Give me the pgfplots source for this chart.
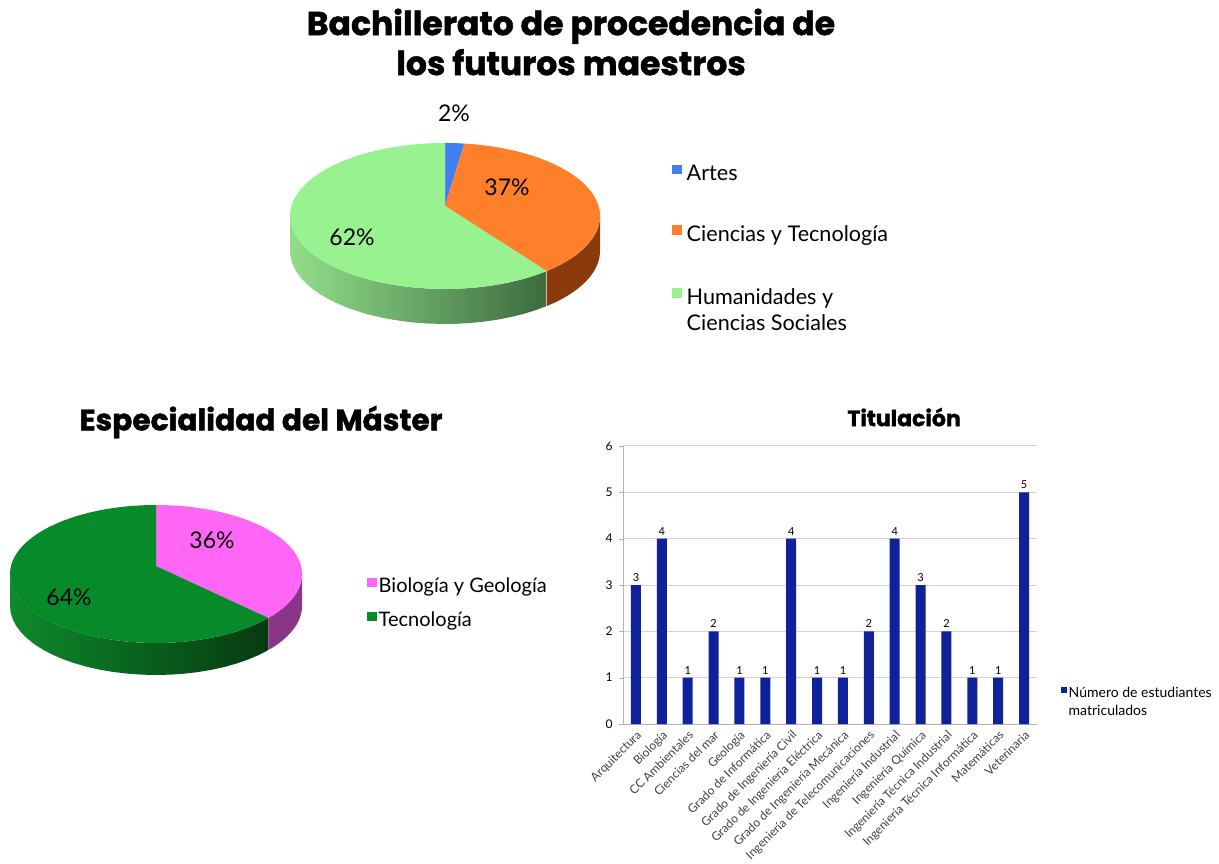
\documentclass[border=0pt]{standalone}
\usepackage{fontspec}
\setmainfont{Lato}
\newfontfamily\titlefont{Poppins}[BoldFeatures={FakeBold=1.5}]
\usepackage{pgfplots}
\pgfplotsset{compat=1.18}
\pgfplotsset{/pgf/number format/assume math mode=true}

\definecolor{artes}{HTML}{4080F0}
\definecolor{cyt}{HTML}{FF7F2A}
\definecolor{cytside}{HTML}{8A3A0A}
\definecolor{hum}{HTML}{98F28F}
\definecolor{humL}{HTML}{92DE8B}
\definecolor{humD}{HTML}{3D6B3F}
\definecolor{bio}{HTML}{FF66F5}
\definecolor{bioside}{HTML}{8A3585}
\definecolor{tec}{HTML}{078A2A}
\definecolor{tecL}{HTML}{0E8A2C}
\definecolor{tecD}{HTML}{063A10}
\definecolor{barblue}{HTML}{0F2299}

% side face of a 3D pie slice (front part only)
\newcommand{\sideplot}[8]{%
 \addplot[forget plot, draw=none, #1, domain=0:100,
   samples at={0,2,...,50,50.0001,52,54,...,100}]
 ({#4+#6*cos(((x<=50)?(#2+(#3-(#2))*x/50):(#2+(#3-(#2))*(100-x)/50)))},
  {#5+#7*sin(((x<=50)?(#2+(#3-(#2))*x/50):(#2+(#3-(#2))*(100-x)/50)))-((x<=50)?0:#8)});}
% top face of a 3D pie slice (#8 = height of the apex, slightly behind the centre)
\newcommand{\topslice}[8]{%
 \addplot[draw=none, #1, domain=#2:#3, samples=60]
 ({#4+#6*cos(x)},{#5+#7*sin(x)}) -- (axis cs:#4,#8) -- cycle;}

\begin{document}%
\begin{tikzpicture}
% data (percentages)
\def\vArtes{2}\def\vCyT{37}\def\vHum{62}
\def\vBio{36}\def\vTec{64}
\pgfmathsetmacro\aA{90-360*\vArtes/(\vArtes+\vCyT+\vHum)}
\pgfmathsetmacro\aB{\aA-360*\vCyT/(\vArtes+\vCyT+\vHum)}
\pgfmathsetmacro\aC{90-360*\vBio/(\vBio+\vTec)}

% ---------------- Pie 1 ----------------
\begin{axis}[at={(0pt,0pt)}, anchor=origin, x=1pt, y=1pt,
  xmin=0, xmax=1219, ymin=0, ymax=863, hide axis, clip=false,
  legend image code/.code={\fill[#1] (0pt,6.5pt) rectangle (9.5pt,16pt);},
  legend style={at={(0.5513,0.8108)}, anchor=north west, draw=none, fill=none,
    font=\fontsize{21.6}{26}\selectfont, row sep=39pt, column sep=3pt, inner sep=0pt,
    cells={anchor=base west}}]
\sideplot{left color=humL, right color=humD}{-180}{\aB}{445}{647}{155}{73}{35}
\sideplot{fill=cytside}{\aB}{0}{445}{647}{155}{73}{35}
\topslice{fill=artes}{\aA}{90}{445}{647}{155}{73}{657}
\addlegendentry{Artes}
\topslice{fill=cyt}{\aB}{\aA}{445}{647}{155}{73}{657}
\addlegendentry{Ciencias y Tecnología}
\topslice{fill=hum}{-270}{\aB}{445}{647}{155}{73}{657}
\addlegendentry{\begin{tabular}[t]{@{}l@{}}Humanidades y\\Ciencias Sociales\end{tabular}}
\node[font=\fontsize{23}{28}\selectfont] at (axis cs:454,750) {2\%};
\node[font=\fontsize{23}{28}\selectfont] at (axis cs:507,676) {37\%};
\node[font=\fontsize{23}{28}\selectfont] at (axis cs:352,626) {62\%};
\node[font=\titlefont\bfseries\fontsize{33}{40}\selectfont, align=center] at (axis cs:571,821)
  {Bachillerato de procedencia de\\los futuros maestros};
\end{axis}

% ---------------- Pie 2 ----------------
\begin{axis}[at={(0pt,0pt)}, anchor=origin, x=1pt, y=1pt,
  xmin=0, xmax=1219, ymin=0, ymax=863, hide axis, clip=false,
  legend image code/.code={\fill[#1] (0pt,5.5pt) rectangle (9.5pt,14.5pt);},
  legend style={at={(0.3011,0.3335)}, anchor=north west, draw=none, fill=none,
    font=\fontsize{20}{24}\selectfont, row sep=14pt, inner sep=0pt,
    cells={anchor=base west}}]
\sideplot{left color=tecL, right color=tecD}{-180}{\aC}{156}{289}{146}{69}{32}
\sideplot{fill=bioside}{\aC}{0}{156}{289}{146}{69}{32}
\topslice{fill=bio}{\aC}{90}{156}{289}{146}{69}{297}
\addlegendentry{Biología y Geología}
\topslice{fill=tec}{-270}{\aC}{156}{289}{146}{69}{297}
\addlegendentry{Tecnología}
\node[font=\fontsize{23}{28}\selectfont] at (axis cs:212,323) {36\%};
\node[font=\fontsize{23}{28}\selectfont] at (axis cs:69,266) {64\%};
\node[font=\titlefont\bfseries\fontsize{29.7}{36}\selectfont] at (axis cs:261,441)
  {Especialidad del Máster};
\end{axis}

% ---------------- Bar chart ----------------
\begin{axis}[at={(623pt,139pt)}, anchor=south west, width=414pt, height=278pt,
  scale only axis, ybar, bar width=10pt, clip=false,
  xmin=-0.5, xmax=15.5, ymin=0, ymax=6, ytick={0,...,6},
  xtick={0,...,15},
  xticklabels={Arquitectura, Biología, CC Ambientales, Ciencias del mar, Geología,
    Grado de Informática, Grado de Ingeniería Civil, Grado de Ingeniería Eléctrica,
    Grado de Ingeniería Mecánica, Ingeniería de Telecomunicaciones,
    Ingeniería Industrial, Ingeniería Química, Ingeniería Técnica Industrial,
    Ingeniería Técnica Informática, Matemáticas, Veterinaria},
  axis lines*=left, axis line style={gray!60, line width=0.8pt},
  ymajorgrids, grid style={gray!35, line width=1pt},
  tick align=outside, major tick length=4pt, minor tick length=4pt,
  xtick style={draw=none}, ytick style={gray!60},
  minor xtick={-0.5,0.5,...,15.5}, minor tick style={gray!60},
  x tick label style={rotate=45, anchor=north east, font=\fontsize{12}{14}\selectfont,
    text=black!75, inner sep=1pt},
  y tick label style={font=\fontsize{12}{14}\selectfont, xshift=-3pt},
  nodes near coords, nodes near coords style={font=\fontsize{11}{12}\selectfont},
  legend image code/.code={\fill[#1] (0pt,5pt) rectangle (5.5pt,10.5pt);},
  legend style={at={(1.058,0.1476)}, anchor=north west, draw=none, fill=none,
    font=\fontsize{14}{18}\selectfont, inner sep=0pt,
    cells={anchor=base west}}]
\addplot[fill=barblue, draw=none] coordinates {
  (0,3) (1,4) (2,1) (3,2) (4,1) (5,1) (6,4) (7,1)
  (8,1) (9,2) (10,4) (11,3) (12,2) (13,1) (14,1) (15,5)};
\addlegendentry{\begin{tabular}[t]{@{}l@{}}Número de estudiantes\\matriculados\end{tabular}}
\node[font=\titlefont\bfseries\fontsize{22}{26}\selectfont] at (axis description cs:0.679,1.104) {Titulación};
\end{axis}

\pgfresetboundingbox
\path[use as bounding box] (0pt,0pt) rectangle (1219pt,863pt);
\end{tikzpicture}%
\end{document}
